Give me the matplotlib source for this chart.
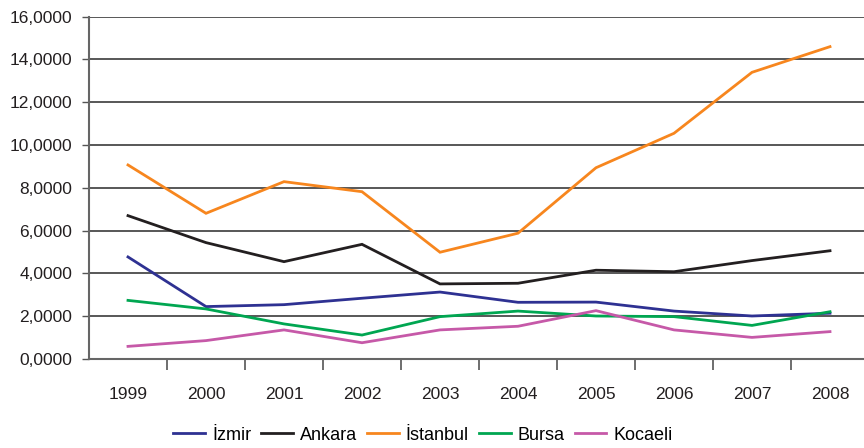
import matplotlib
matplotlib.use("Agg")
import matplotlib.pyplot as plt
from matplotlib.ticker import FuncFormatter, FixedLocator

years = ["1999", "2000", "2001", "2002", "2003", "2004", "2005", "2006", "2007", "2008"]
izmir = [4.77, 2.45, 2.54, 2.84, 3.13, 2.65, 2.66, 2.24, 2.01, 2.14]
ankara = [6.70, 5.44, 4.55, 5.36, 3.51, 3.54, 4.15, 4.08, 4.60, 5.06]
istanbul = [9.07, 6.81, 8.29, 7.82, 4.99, 5.88, 8.94, 10.55, 13.40, 14.60]
bursa = [2.74, 2.34, 1.64, 1.12, 1.98, 2.24, 2.01, 1.98, 1.57, 2.21]
kocaeli = [0.59, 0.86, 1.36, 0.76, 1.36, 1.53, 2.26, 1.36, 1.01, 1.28]

series = [
    ("İzmir", izmir, "#2e3192"),
    ("Ankara", ankara, "#231f20"),
    ("İstanbul", istanbul, "#f7861e"),
    ("Bursa", bursa, "#00a651"),
    ("Kocaeli", kocaeli, "#c659a8"),
]

plt.rcParams['font.family'] = ['Liberation Sans', 'DejaVu Sans']

fig = plt.figure(figsize=(8.64, 4.48), dpi=100)
ax = fig.add_axes([89/864, (448-359)/448, (869-89)/864, (359-16.7)/448])

x = list(range(len(years)))
for name, vals, col in series:
    ax.plot(x, vals, color=col, lw=2.0, label=name, solid_joinstyle='miter')

ax.set_xlim(-0.5, len(years) - 0.5)
ax.set_ylim(0, 16)
ax.set_yticks(range(0, 17, 2))
ax.yaxis.set_major_formatter(FuncFormatter(lambda v, p: f"{v:.4f}".replace('.', ',')))
ax.grid(axis='y', color='#2a2a2a', lw=1.1)
ax.set_axisbelow(True)

ax.set_xticks(x)
ax.set_xticklabels(years)
ax.xaxis.set_minor_locator(FixedLocator([i + 0.5 for i in range(len(years) - 1)]))
ax.tick_params(axis='x', which='major', length=0, pad=20, labelsize=12.5, colors='#231f20')
ax.tick_params(axis='x', which='minor', length=8, width=1.2, color='#555555', direction='out')
ax.tick_params(axis='y', length=5, width=1.0, color='#555555', pad=7, labelsize=12.5, labelcolor='#231f20')

for s in ['top', 'right']:
    ax.spines[s].set_visible(False)
for s in ['left', 'bottom']:
    ax.spines[s].set_color('#666666')
    ax.spines[s].set_linewidth(1.5)

fig.legend(loc='center', bbox_to_anchor=(423/864, 1 - 435/448), ncol=5, frameon=False,
           fontsize=13, handlelength=1.75, handletextpad=0.4, columnspacing=0.55)

fig.savefig("out.png", dpi=100)
